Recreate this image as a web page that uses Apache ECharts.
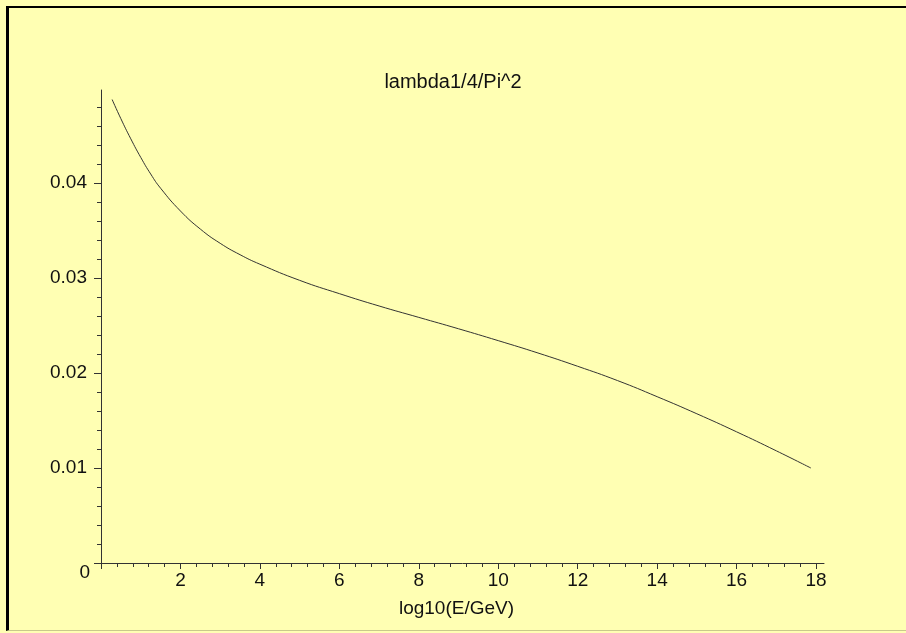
<!DOCTYPE html>
<html><head><meta charset="utf-8">
<script src="https://cdn.jsdelivr.net/npm/echarts@6/dist/echarts.min.js"></script>
<style>
html,body{margin:0;padding:0;background:#ffffb3;width:906px;height:633px;overflow:hidden}
#frame{position:absolute;left:6px;top:6px;width:920px;height:625px;border-top:2px solid #000;border-left:3px solid #000;border-bottom:1px solid #c9c98c;box-sizing:border-box}
#chart{position:absolute;left:0;top:0;width:906px;height:633px}
</style></head><body>
<div id="frame"></div><div id="chart"></div>
<script>
// curve: lambda/4/Pi^2 versus log10(E/GeV)
const curveX = [0.28, 0.5, 0.75, 1.0, 1.25, 1.5, 2.0, 2.5, 3.0, 3.5, 4.0, 5.0, 6.0, 7.0, 8.0, 9.0, 10.0, 11.0, 12.0, 13.0, 14.0, 15.0, 16.0, 17.0, 17.87];
const curveY = [0.0488, 0.04678, 0.04466, 0.04271, 0.04096, 0.03946, 0.03706, 0.03516, 0.03366, 0.03246, 0.03146, 0.02976, 0.02836, 0.02706, 0.02586, 0.02466, 0.02341, 0.02211, 0.02071, 0.01921, 0.01751, 0.01571, 0.01381, 0.01181, 0.0100];

const xTickLabels = [2, 4, 6, 8, 10, 12, 14, 16, 18];
const xMajorTicks = [0, 2, 4, 6, 8, 10, 12, 14, 16, 18];
const xMinorTicks = [0.4, 0.8, 1.2, 1.6, 2.4, 2.8, 3.2, 3.6, 4.4, 4.8, 5.2, 5.6, 6.4, 6.8, 7.2, 7.6, 8.4, 8.8, 9.2, 9.6, 10.4, 10.8, 11.2, 11.6, 12.4, 12.8, 13.2, 13.6, 14.4, 14.8, 15.2, 15.6, 16.4, 16.8, 17.2, 17.6];
const yTickLabels = [0, 0.01, 0.02, 0.03, 0.04];
const yMajorTicks = [0, 0.01, 0.02, 0.03, 0.04];
const yMinorTicks = [0.002, 0.004, 0.006, 0.008, 0.012, 0.014, 0.016, 0.018, 0.022, 0.024, 0.026, 0.028, 0.032, 0.034, 0.036, 0.038, 0.042, 0.044, 0.046, 0.048];

const titleText = 'lambda1/4/Pi^2';
const xName = 'log10(E/GeV)';

const FONT = '"Liberation Sans", Arial, sans-serif';
const AX = '#333';
const chart = echarts.init(document.getElementById('chart'), null, {renderer: 'canvas'});
const xMin = 0, xMax = 18.2, yMin = 0, yMax = 0.0498;

chart.setOption({
  animation: false,
  backgroundColor: 'transparent',
  title: {
    text: titleText, left: 'center', top: 67,
    textStyle: {fontFamily: FONT, fontSize: 20, fontWeight: 'normal', color: '#111'}
  },
  grid: {left: 101, right: 82, top: 90, bottom: 70, containLabel: false},
  xAxis: [{
    type: 'value', min: xMin, max: xMax, gridIndex: 0, position: 'bottom',
    name: xName, nameLocation: 'middle', nameGap: 36,
    nameTextStyle: {fontFamily: FONT, fontSize: 19, color: '#111', padding: [0, 12, 0, 0]},
    axisLine: {show: true, onZero: false, lineStyle: {color: AX, width: 1}},
    axisTick: {show: true, length: 6, customValues: xMajorTicks, lineStyle: {color: AX}},
    axisLabel: {customValues: xTickLabels, margin: 8, fontFamily: FONT, fontSize: 19, color: '#111'},
    splitLine: {show: false}
  }, {
    type: 'value', min: xMin, max: xMax, gridIndex: 0, position: 'bottom', offset: 0,
    axisLine: {show: false},
    axisTick: {show: true, length: 4, customValues: xMinorTicks, lineStyle: {color: AX}},
    axisLabel: {show: false},
    splitLine: {show: false}
  }],
  yAxis: [{
    type: 'value', min: yMin, max: yMax, gridIndex: 0, position: 'left',
    axisLine: {show: true, onZero: false, lineStyle: {color: AX, width: 1}},
    axisTick: {show: true, length: 7, customValues: yMajorTicks, lineStyle: {color: AX}},
    axisLabel: {
      customValues: yTickLabels, margin: 11, fontFamily: FONT, fontSize: 19, color: '#111',
      formatter: v => v === 0 ? '{z|0}' : '{n|' + v + '}',
      rich: {
        z: {fontFamily: FONT, fontSize: 19, color: '#111', padding: [20, 0, 0, 0]},
        n: {fontFamily: FONT, fontSize: 19, color: '#111', padding: [0, 3, 0, 0]}
      }
    },
    splitLine: {show: false}
  }, {
    type: 'value', min: yMin, max: yMax, gridIndex: 0, position: 'left', offset: 0,
    axisLine: {show: false},
    axisTick: {show: true, length: 4, customValues: yMinorTicks, lineStyle: {color: AX}},
    axisLabel: {show: false},
    splitLine: {show: false}
  }],
  series: [{
    type: 'line', xAxisIndex: 0, yAxisIndex: 0,
    data: curveX.map((x, i) => [x, curveY[i]]),
    smooth: true, showSymbol: false,
    lineStyle: {color: '#333', width: 1}
  }]
});
</script>
</body></html>
